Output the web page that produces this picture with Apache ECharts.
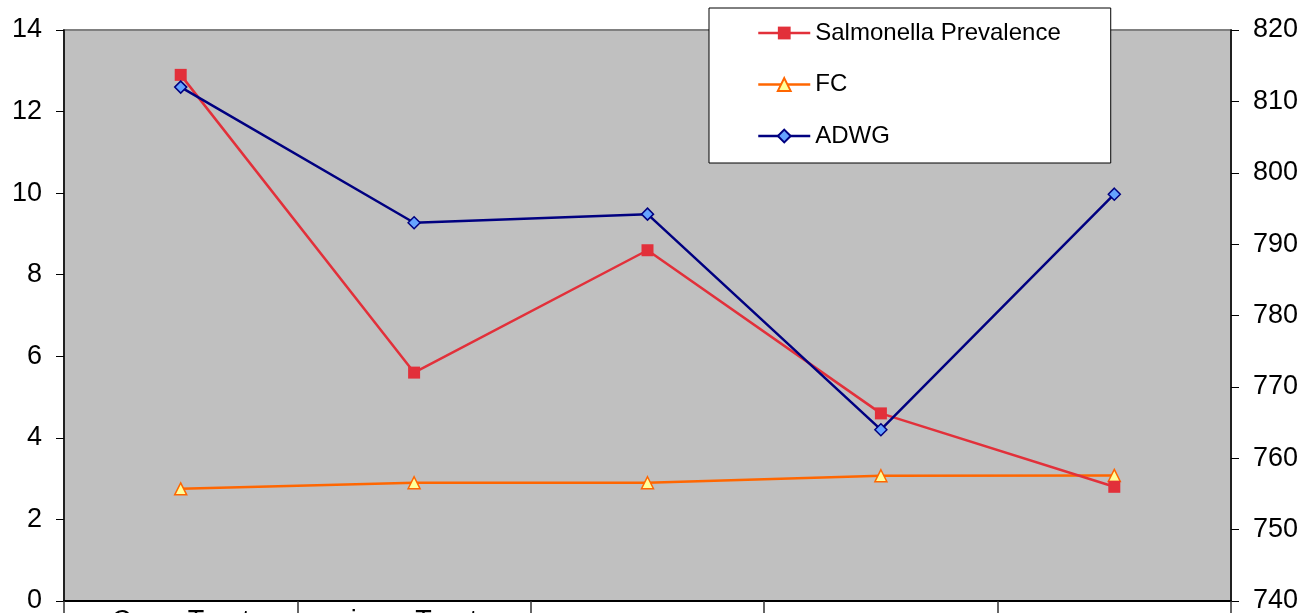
<!DOCTYPE html>
<html>
<head>
<meta charset="utf-8">
<script src="https://cdn.jsdelivr.net/npm/echarts@6/dist/echarts.min.js"></script>
<style>
html,body{margin:0;padding:0;background:#fff;}
#chart{width:1305px;height:613px;}
</style>
</head>
<body>
<div id="chart"></div>
<script>
var categories = ["Conv. Treat", "inoc. Treat", "ozone", "mannan", "enzyme"];
var salmonella = [12.9, 5.6, 8.6, 4.6, 2.8];
var fc = [2.75, 2.9, 2.9, 3.07, 3.08];
var adwg = [812, 793, 794.2, 764, 797];
var leftTicks = {min: 0, max: 14, interval: 2};
var rightTicks = {min: 740, max: 820, interval: 10};

var FONT = "Liberation Sans, Arial, sans-serif";
var chart = echarts.init(document.getElementById('chart'), null, {renderer: 'canvas'});
chart.setOption({
  animation: false,
  backgroundColor: '#ffffff',
  textStyle: {fontFamily: FONT, color: '#000'},
  grid: {
    left: 64, right: 74, top: 30, bottom: 12,
    containLabel: false, outerBoundsMode: 'none',
    show: true, backgroundColor: '#c0c0c0', borderColor: '#808080', borderWidth: 2
  },
  legend: {
    orient: 'vertical',
    left: 709, top: 8,
    padding: [13, 50, 15, 48],
    itemWidth: 52, itemHeight: 16, itemGap: 27.5,
    backgroundColor: '#ffffff', borderColor: '#000000', borderWidth: 1,
    lineStyle: {width: 2.5},
    textStyle: {fontSize: 24, lineHeight: 24, color: '#000', fontFamily: FONT},
    data: ['Salmonella Prevalence', 'FC', 'ADWG']
  },
  xAxis: {
    type: 'category',
    data: categories,
    boundaryGap: true,
    axisLine: {lineStyle: {color: '#000', width: 2}},
    axisTick: {show: true, length: 16, lineStyle: {color: '#333', width: 1.5}},
    axisLabel: {fontSize: 27, color: '#000', margin: 7, fontFamily: FONT, interval: 0}
  },
  yAxis: [
    {
      type: 'value', position: 'left',
      min: leftTicks.min, max: leftTicks.max, interval: leftTicks.interval,
      axisLine: {show: true, lineStyle: {color: '#000', width: 1.5}},
      axisTick: {show: true, length: 8, lineStyle: {color: '#000'}},
      splitLine: {show: false},
      axisLabel: {fontSize: 27, color: '#000', margin: 22, fontFamily: FONT}
    },
    {
      type: 'value', position: 'right',
      min: rightTicks.min, max: rightTicks.max, interval: rightTicks.interval,
      axisLine: {show: true, lineStyle: {color: '#000', width: 1.5}},
      axisTick: {show: true, length: 8, lineStyle: {color: '#000'}},
      splitLine: {show: false},
      axisLabel: {fontSize: 27, color: '#000', margin: 22, fontFamily: FONT}
    }
  ],
  series: [
    {
      name: 'Salmonella Prevalence', type: 'line', yAxisIndex: 0,
      data: salmonella,
      symbol: 'rect', symbolSize: 12,
      lineStyle: {color: '#e2303a', width: 2.5},
      itemStyle: {color: '#e2303a', borderColor: '#e2303a', borderWidth: 0},
      z: 3
    },
    {
      name: 'FC', type: 'line', yAxisIndex: 0,
      data: fc,
      symbol: 'triangle', symbolSize: 12,
      lineStyle: {color: '#ff6600', width: 2.5},
      itemStyle: {color: '#ffff99', borderColor: '#ff6600', borderWidth: 1.5},
      z: 2
    },
    {
      name: 'ADWG', type: 'line', yAxisIndex: 1,
      data: adwg,
      symbol: 'diamond', symbolSize: 12,
      lineStyle: {color: '#000080', width: 2.5},
      itemStyle: {color: '#66a3ff', borderColor: '#000080', borderWidth: 1.5},
      z: 4
    }
  ]
});
</script>
</body>
</html>
